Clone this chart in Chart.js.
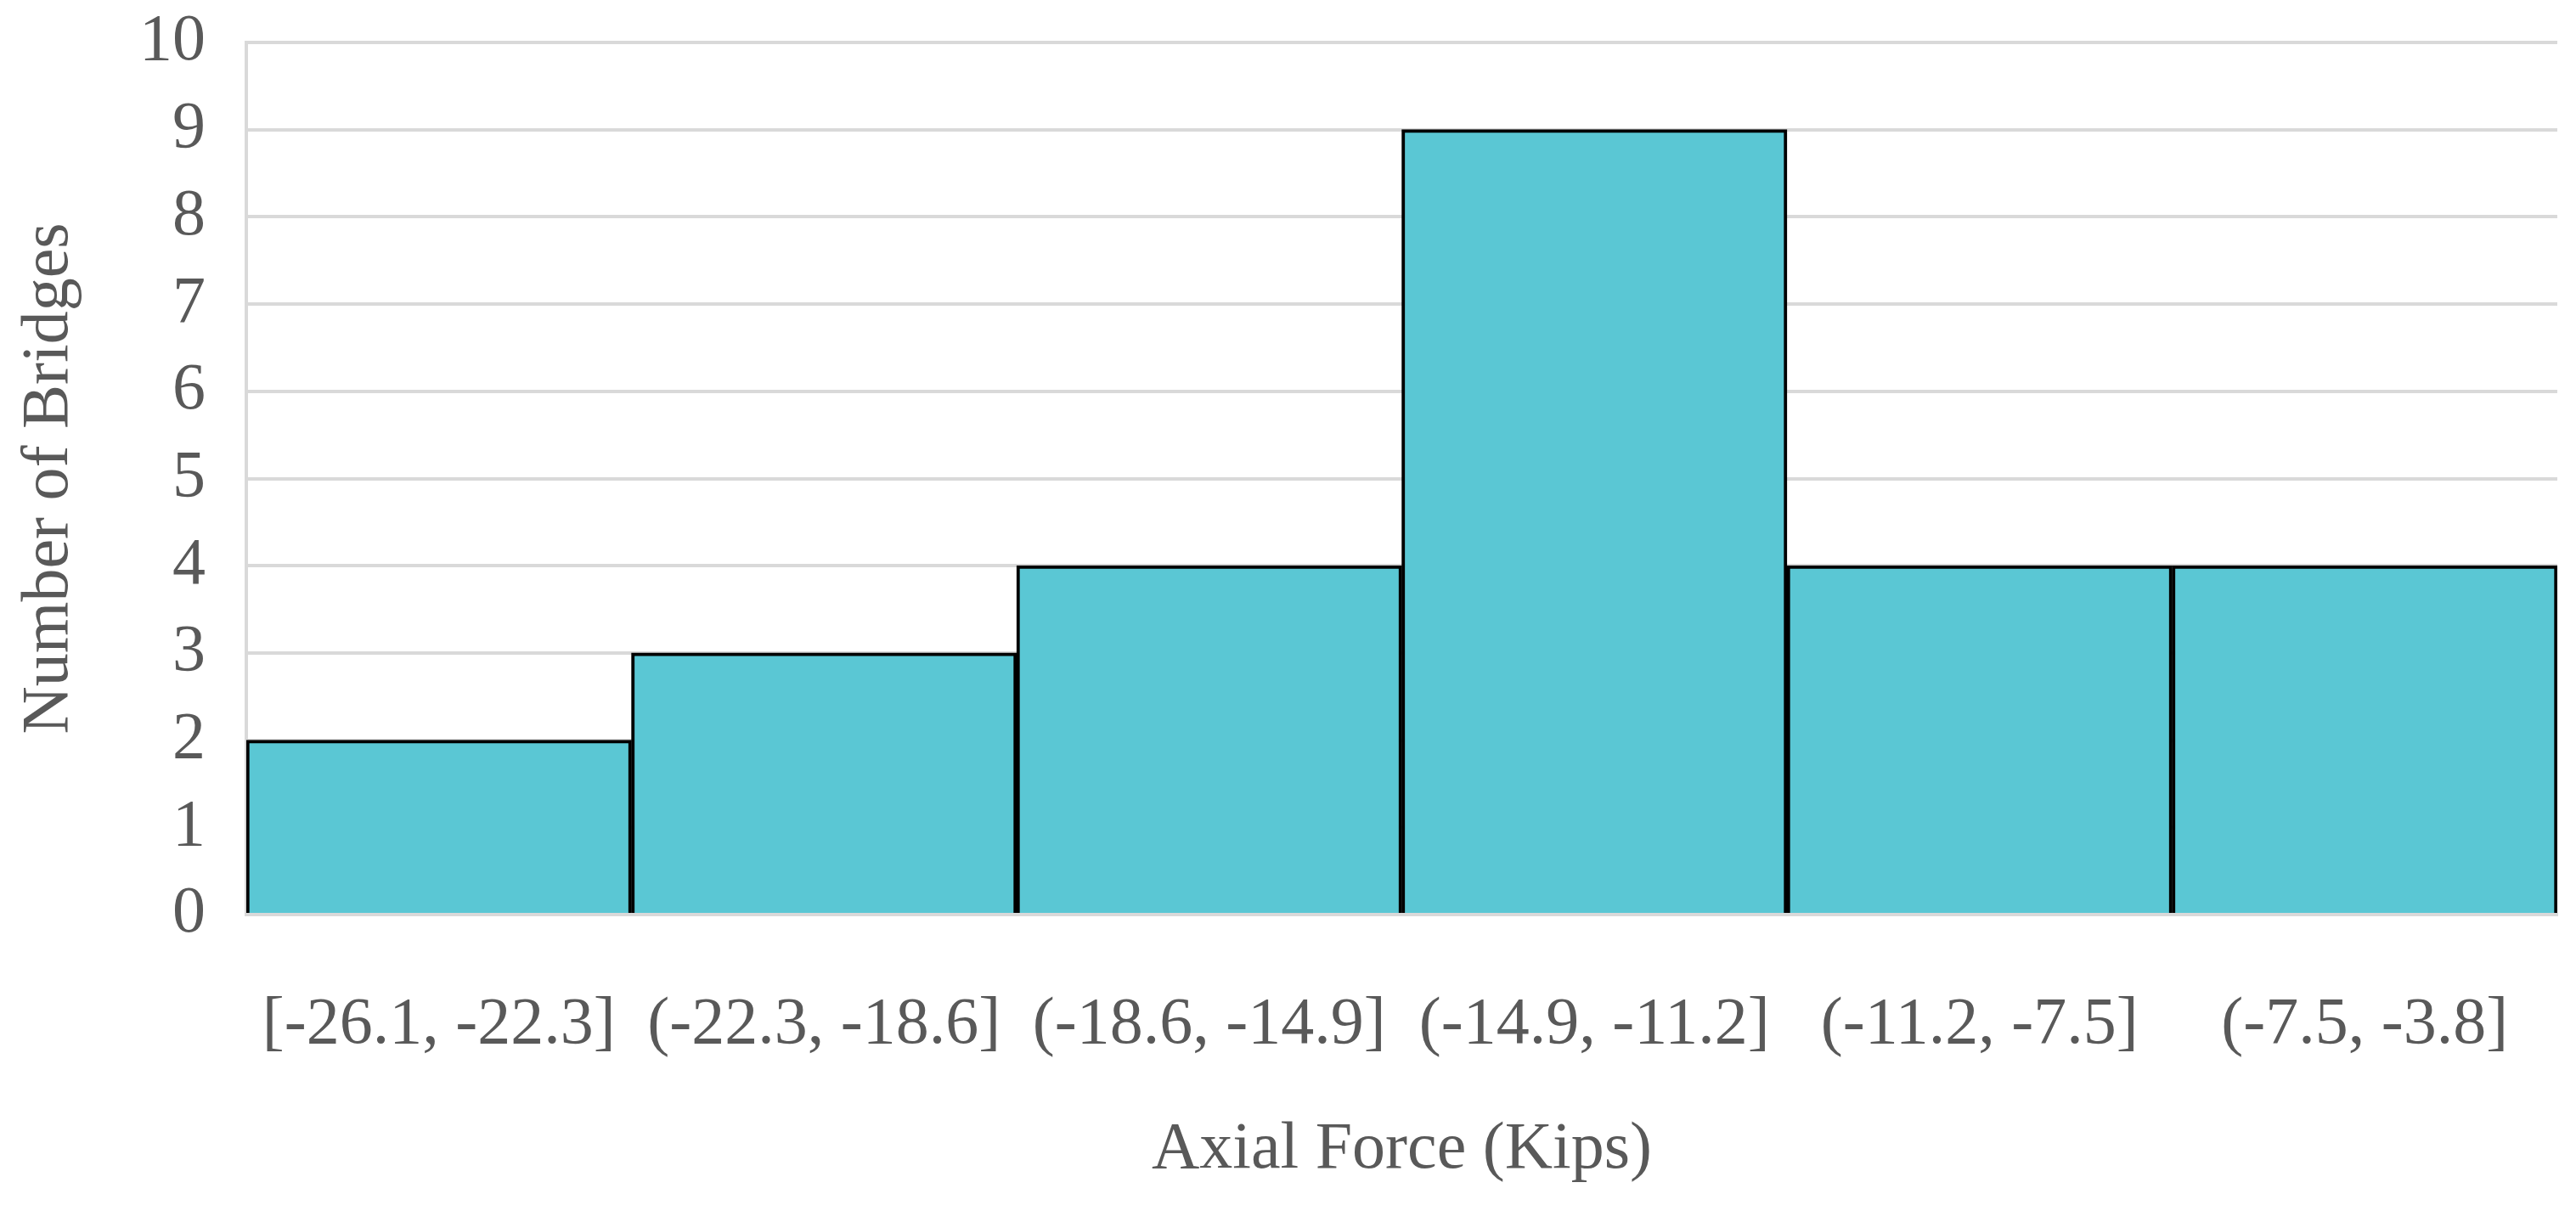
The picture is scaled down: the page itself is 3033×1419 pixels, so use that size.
<!DOCTYPE html>
<html>
<head>
<meta charset="utf-8">
<script src="https://cdn.jsdelivr.net/npm/chart.js@4.4.0/dist/chart.umd.min.js"></script>
<style>
  html, body { margin: 0; padding: 0; background: #fff; }
  #wrap { width: 3033px; height: 1419px; }
</style>
</head>
<body>
<div id="wrap"><canvas id="chartHist"></canvas></div>
<script>
// histogram bins and counts
const binLabels = ["[-26.1, -22.3]", "(-22.3, -18.6]", "(-18.6, -14.9]", "(-14.9, -11.2]", "(-11.2, -7.5]", "(-7.5, -3.8]"];
const bridgeCounts = [2, 3, 4, 9, 4, 4];
const yTicks = [0, 1, 2, 3, 4, 5, 6, 7, 8, 9, 10];

const textColor = "#595959";
const gridColor = "#D9D9D9";
const serif = "'Liberation Serif', 'DejaVu Serif', serif";

const setupChart = () => {
    const datasets = [{
        label: "Number of Bridges",
        data: bridgeCounts,
        backgroundColor: "#5AC7D4",
        borderColor: "#000000",
        borderWidth: 4,
        categoryPercentage: 1.0,
        barPercentage: 1.0
    }];

    const options = {
        responsive: false,
        animation: false,
        layout: { padding: { top: 50, right: 22, bottom: 0, left: 0 } },
        plugins: {
            legend: { display: false },
            tooltip: { enabled: false }
        },
        scales: {
            x: {
                grid: { display: false, drawTicks: false },
                border: { display: true, color: gridColor, width: 4 },
                ticks: {
                    color: textColor,
                    font: { family: serif, size: 78 },
                    padding: 84,
                    maxRotation: 0,
                    autoSkip: false
                },
                title: {
                    display: true,
                    text: "Axial Force (Kips)",
                    color: textColor,
                    font: { family: serif, size: 78 },
                    padding: { top: 0, bottom: 18 }
                },
                afterFit: (scale) => {
                    scale.height = 342;
                    // keep the plot edge where the reference has it
                    scale.paddingLeft = 0;
                    scale.paddingRight = 0;
                }
            },
            y: {
                min: 0,
                max: 10,
                grid: { color: gridColor, lineWidth: 4, drawTicks: false },
                border: { display: true, color: gridColor, width: 4 },
                afterBuildTicks: (scale) => { scale.ticks = yTicks.map(v => ({ value: v })); },
                ticks: {
                    color: textColor,
                    font: { family: serif, size: 78 },
                    padding: 48
                },
                title: {
                    display: true,
                    text: "Number of Bridges",
                    color: textColor,
                    font: { family: serif, size: 78 },
                    padding: { top: 12, bottom: 0 }
                },
                afterFit: (scale) => {
                    scale.width = 290;
                    scale.paddingTop = 0;
                    scale.paddingBottom = 0;
                }
            }
        }
    };

    const config = {
        type: "bar",
        data: { labels: binLabels, datasets: datasets },
        options
    };

    const canvas = document.getElementById("chartHist");
    canvas.width = 3033;
    canvas.height = 1419;
    new Chart(canvas, config);
};

setupChart();
</script>
</body>
</html>
